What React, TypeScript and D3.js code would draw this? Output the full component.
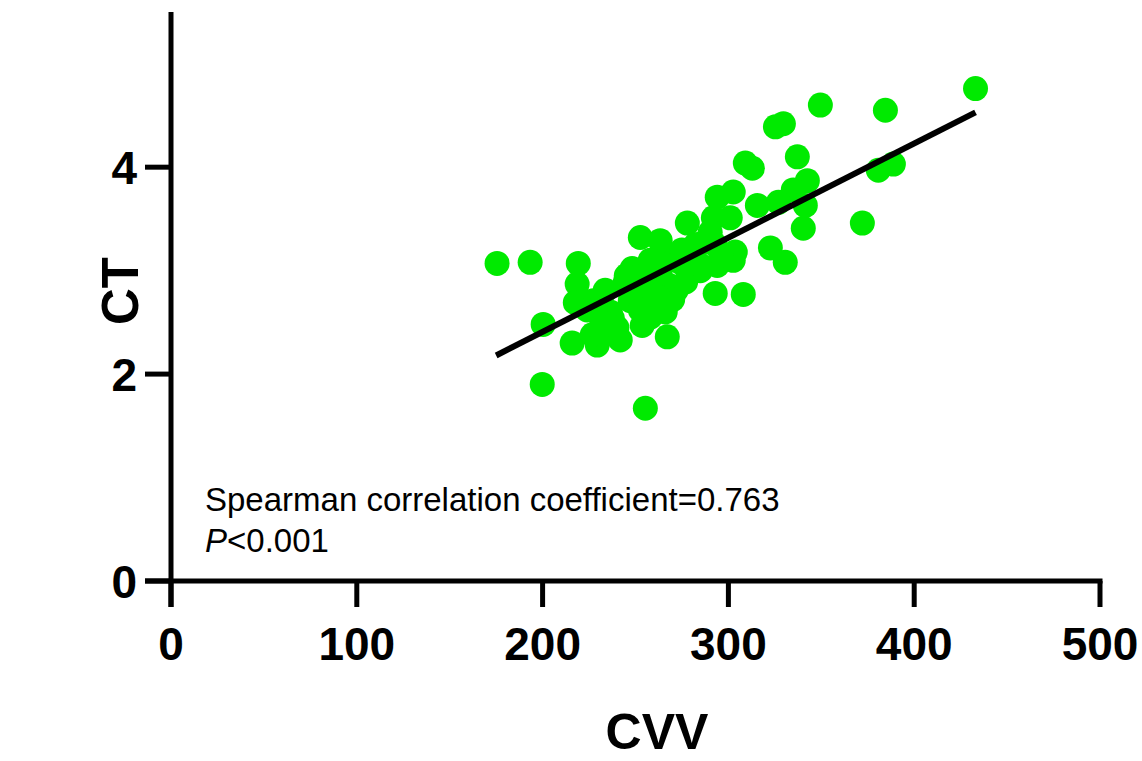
import * as d3 from "d3";

// CVV vs CT
const cvv = [
  175.5, 193.3, 219.2, 218.6, 217.6, 200.3, 199.8, 215.9, 229.4, 227.3,
  236.4, 241.8, 253.6, 267.1, 266.0, 255.3, 252.6, 264.4, 248.2, 249.9,
  237.5, 247.2, 257.9, 260.6, 252.6, 263.3, 267.6, 278.4, 282.2, 277.9,
  291.9, 294.0, 302.6, 312.9, 309.1, 325.3, 329.6, 349.5, 384.5, 433.0,
  337.1, 342.5, 334.9, 341.4, 326.9, 315.6, 340.3, 372.1, 380.7, 388.8,
  322.6, 330.6, 292.9, 308.0, 302.6, 303.7, 294.0, 284.9, 292.9, 301.0,
  286.5, 279.5, 271.9, 226.7, 233.7, 244.5, 263.3, 274.1, 257.9, 290.2,
  231.0, 277.0, 232.0, 240.0, 258.0, 270.0, 275.0, 285.0, 296.0, 255.0,
  224.0, 245.0, 262.0,
];
const ct = [
  3.07, 3.08, 3.07, 2.87, 2.69, 2.48, 1.90, 2.30, 2.28, 2.71,
  2.60, 2.33, 2.47, 2.36, 2.60, 1.67, 3.32, 3.18, 3.02, 2.79,
  2.54, 2.71, 2.91, 2.71, 2.62, 3.00, 2.86, 2.96, 3.25, 3.46,
  3.51, 3.71, 3.76, 3.99, 4.04, 4.39, 4.42, 4.60, 4.55, 4.76,
  4.10, 3.87, 3.78, 3.63, 3.66, 3.63, 3.41, 3.46, 3.97, 4.03,
  3.22, 3.08, 2.78, 2.77, 3.10, 3.18, 3.05, 3.00, 3.25, 3.51,
  3.27, 3.15, 2.81, 2.38, 2.81, 2.89, 3.29, 3.08, 3.10, 3.37,
  2.43, 2.89, 2.50, 2.45, 2.55, 2.72, 3.20, 3.05, 3.15, 2.95,
  2.62, 2.95, 2.75,
];

// fitted line end points
const fitX = [175, 433];
const fitY = [2.18, 4.53];

const xTicks = [0, 100, 200, 300, 400, 500];
const yTicks = [0, 2, 4];

const W = 1142;
const H = 761;
const GREEN = "#00ea00";
const FONT = "Arial, 'Liberation Sans', Helvetica, sans-serif";

export default function App() {
  const x = d3.scaleLinear().domain([0, 500]).range([171, 1100]);
  const y = d3.scaleLinear().domain([0, 5.5]).range([581, 12]);
  const tick = 26;

  const points = cvv.map((v, i) => ({ cvv: v, ct: ct[i] }));
  const line = d3.line<number>()
    .x((d) => x(d))
    .y((_, i) => y(fitY[i]));

  return (
    <svg
      width={W}
      height={H}
      style={{ position: "absolute", left: 0, top: 0, background: "#fff" }}
      fontFamily={FONT}
    >
      {/* points */}
      <g>
        {points.map((p, i) => (
          <circle key={i} cx={x(p.cvv)} cy={y(p.ct)} r={12.5} fill={GREEN} />
        ))}
      </g>

      {/* regression line */}
      <path d={line(fitX) || ""} stroke="#000" strokeWidth={6} fill="none" />

      {/* y axis */}
      <g stroke="#000" strokeWidth={5}>
        <line x1={x(0)} x2={x(0)} y1={y(5.5)} y2={y(0) + tick} />
        {yTicks.map((t) => (
          <line key={t} x1={x(0) - tick} x2={x(0)} y1={y(t)} y2={y(t)} />
        ))}
      </g>
      {yTicks.map((t) => (
        <text
          key={t}
          x={137}
          y={y(t)}
          dy="0.36em"
          textAnchor="end"
          fontSize={46}
          fontWeight="bold"
        >
          {t}
        </text>
      ))}

      {/* x axis */}
      <g stroke="#000" strokeWidth={5}>
        <line x1={x(0) - tick} x2={x(500) + 2.5} y1={y(0)} y2={y(0)} />
        {xTicks.map((t) => (
          <line key={t} x1={x(t)} x2={x(t)} y1={y(0)} y2={y(0) + tick} />
        ))}
      </g>
      {xTicks.map((t) => (
        <text
          key={t}
          x={x(t)}
          y={660}
          textAnchor="middle"
          fontSize={46}
          fontWeight="bold"
        >
          {t}
        </text>
      ))}

      {/* axis titles */}
      <text x={657} y={749} textAnchor="middle" fontSize={50} fontWeight="bold">
        CVV
      </text>
      <text
        transform={`translate(138, 291) rotate(-90)`}
        textAnchor="middle"
        fontSize={51}
        fontWeight="bold"
      >
        CT
      </text>

      {/* annotation */}
      <text x={205} y={511} fontSize={33}>
        Spearman correlation coefficient=0.763
      </text>
      <text x={205} y={552} fontSize={33}>
        <tspan fontStyle="italic">P</tspan>&lt;0.001
      </text>
    </svg>
  );
}
